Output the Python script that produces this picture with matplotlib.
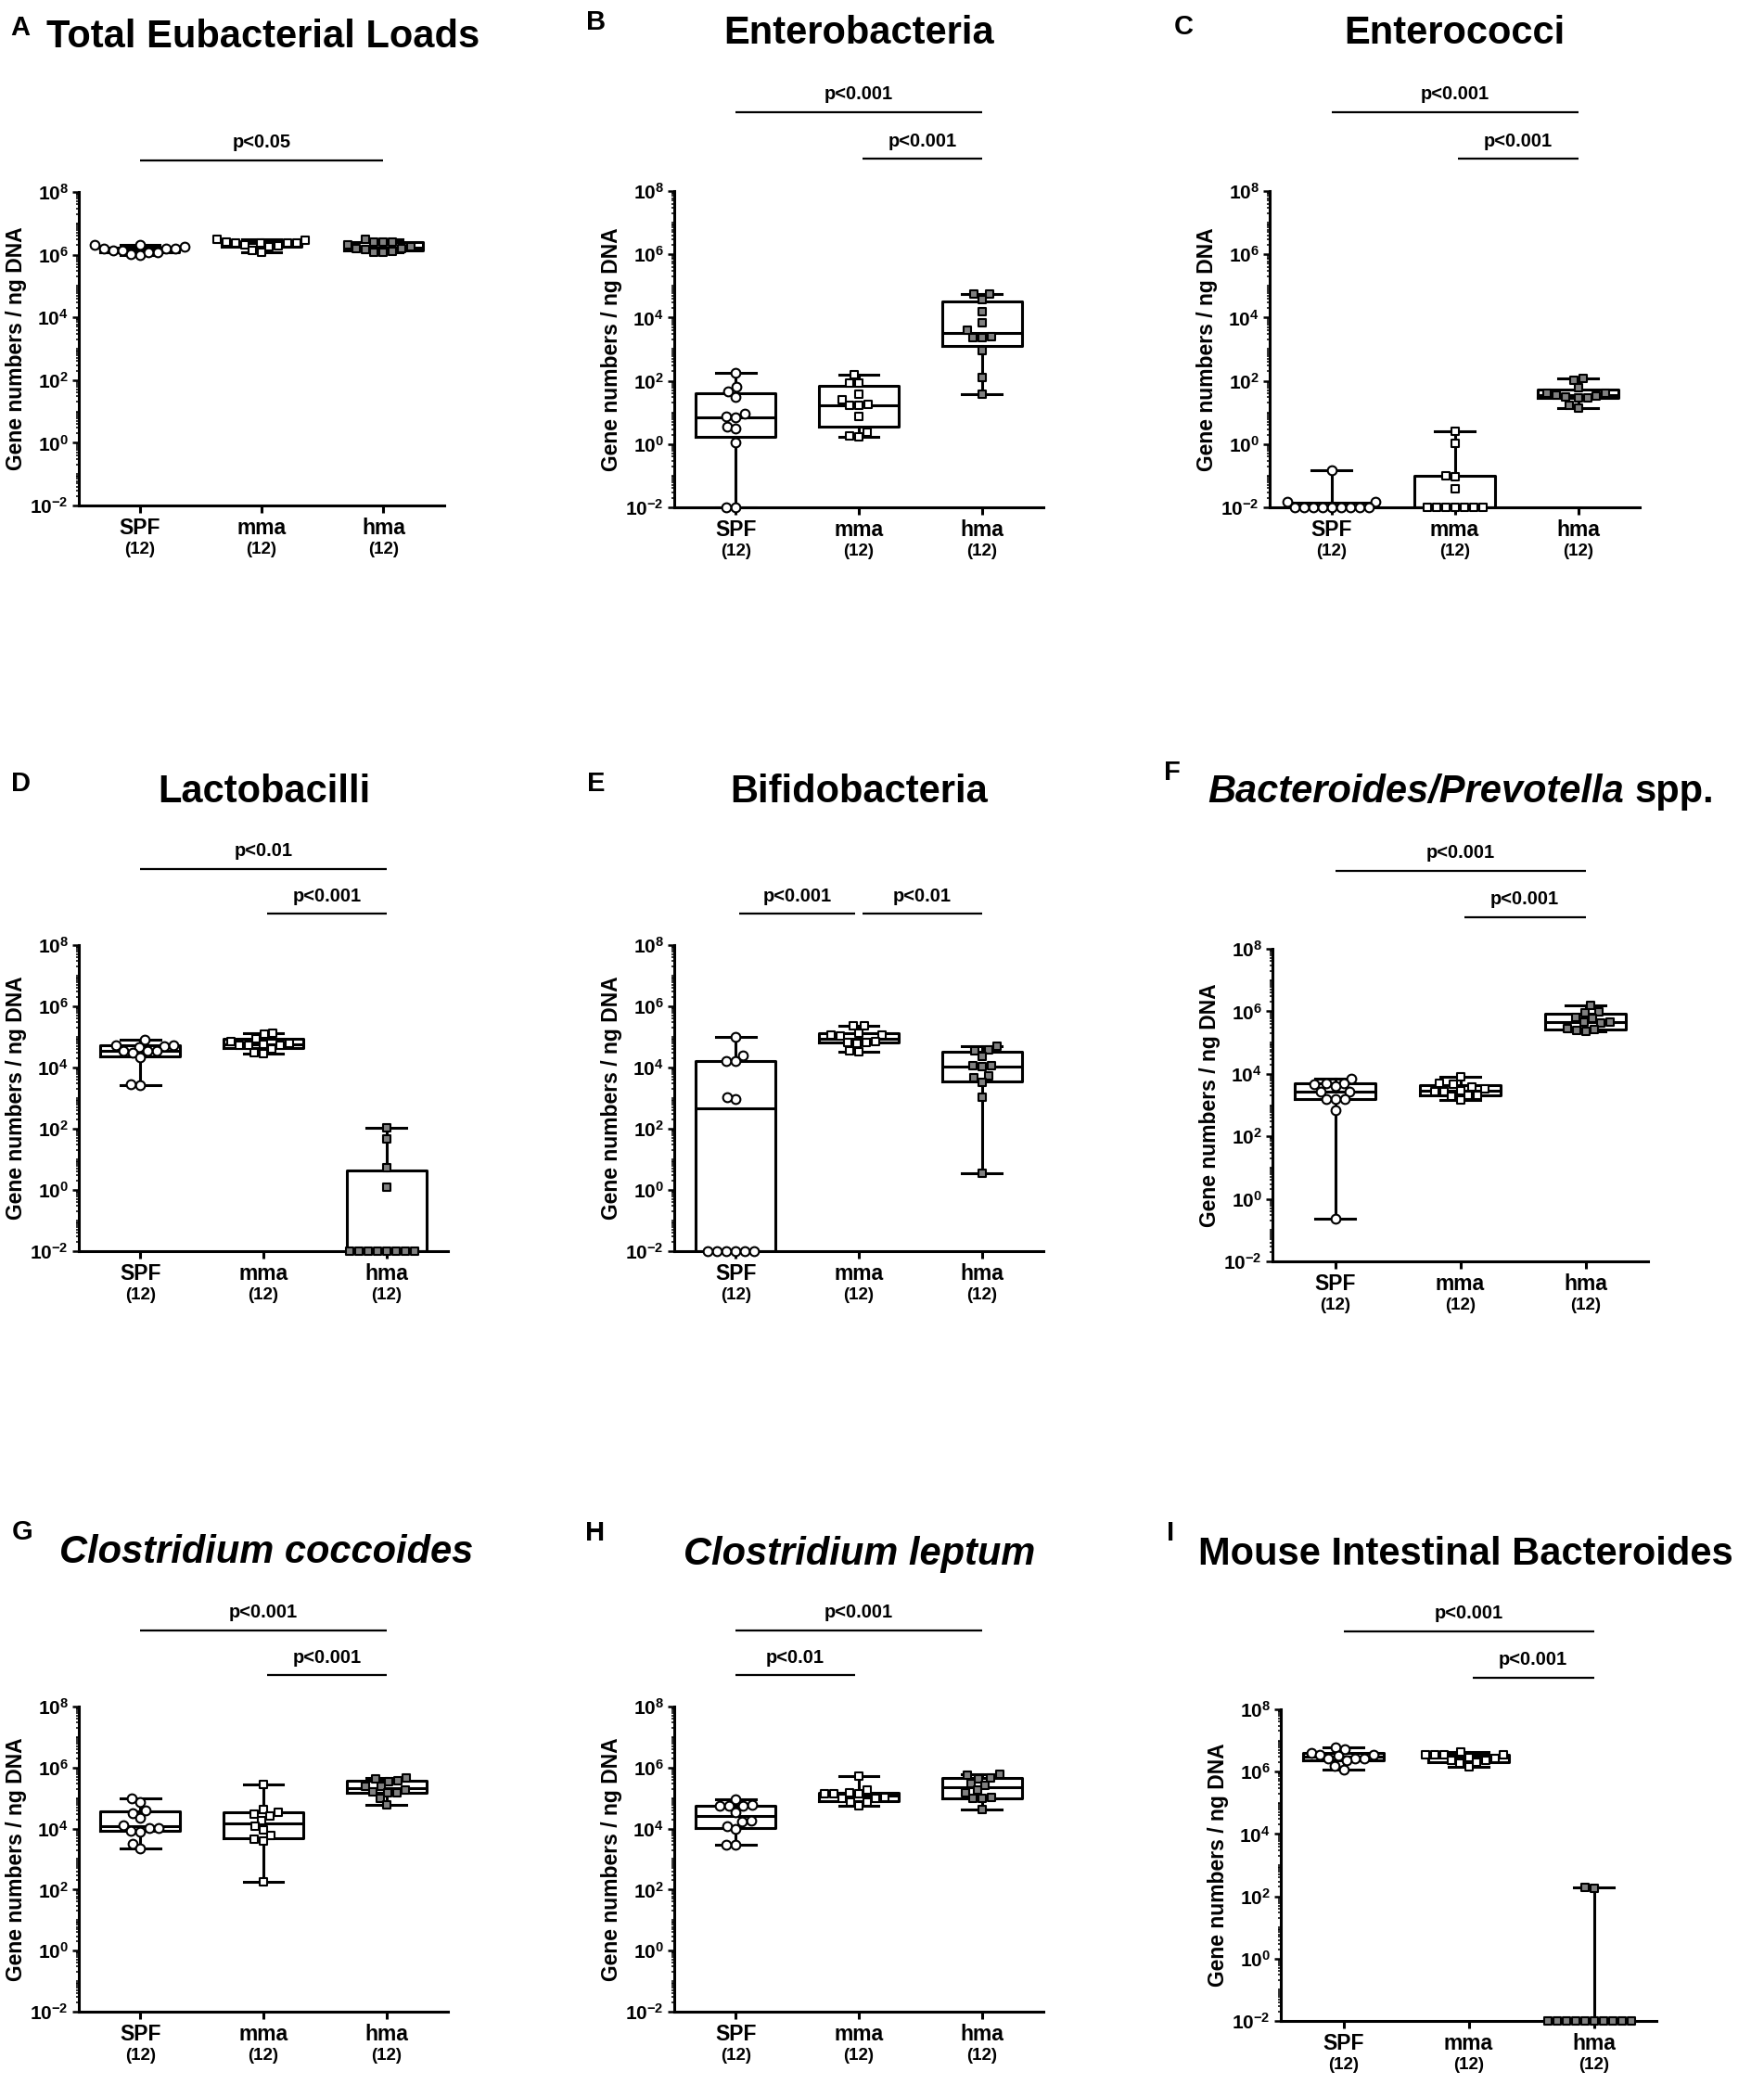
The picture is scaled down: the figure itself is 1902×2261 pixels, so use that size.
import numpy as np
import matplotlib
matplotlib.use('Agg')
import matplotlib.pyplot as plt
from matplotlib import ticker, transforms

plt.rcParams['font.family'] = ['Liberation Sans', 'DejaVu Sans']
plt.rcParams['font.weight'] = 'bold'
plt.rcParams['mathtext.fontset'] = 'custom'
plt.rcParams['mathtext.rm'] = 'Liberation Sans:bold'
plt.rcParams['mathtext.bf'] = 'Liberation Sans:bold'

# gene numbers / ng DNA (0.01 = below detection, plotted on the axis)
groups = ['SPF', 'mma', 'hma']

total_spf = [1.23e6, 1.74e6, 1.41e6, 1.52e6, 2.0e6, 0.95e6, 1.62e6, 1.23e6, 1.52e6, 2.0e6, 1.07e6, 1.41e6]
total_mma = [2.3e6, 1.74e6, 2.8e6, 2.0e6, 2.3e6, 1.17e6, 2.6e6, 1.9e6, 3.0e6, 1.4e6, 2.3e6, 2.3e6]
total_hma = [2.6e6, 1.3e6, 2.6e6, 1.6e6, 1.75e6, 2.1e6, 1.17e6, 3.2e6, 1.6e6, 2.6e6, 1.17e6, 1.5e6]

entb_spf = [184, 63, 45, 31, 9, 7.5, 6.9, 3.6, 3.1, 1.16, 0.01, 0.01]
entb_mma = [151, 83, 83, 37, 25, 17.6, 16.7, 16.7, 7.5, 2.37, 1.72, 1.8]
entb_hma = [5.4e4, 5.4e4, 3.8e4, 1.58e4, 6.8e3, 4.0e3, 2.46e3, 2.3e3, 2.3e3, 915, 129, 37]

entc_spf = [0.145, 0.015, 0.015, 0.01, 0.01, 0.01, 0.01, 0.01, 0.01, 0.01, 0.01, 0.01]
entc_mma = [2.57, 1.07, 0.1, 0.091, 0.038, 0.01, 0.01, 0.01, 0.01, 0.01, 0.01, 0.01]
entc_hma = [107, 123, 59, 40, 40, 31, 34, 35, 28, 28, 16.6, 13.8]

lact_spf = [8.1e4, 5.1e4, 5.4e4, 4.8e4, 5.4e4, 3.6e4, 3.4e4, 2.95e4, 3.4e4, 2.1e4, 2.7e3, 2.8e3]
lact_mma = [1.35e5, 1.27e5, 8.9e4, 6.3e4, 5.9e4, 7.1e4, 5.4e4, 5.4e4, 5.4e4, 3.9e4, 3.1e4, 2.9e4]
lact_hma = [109, 45, 5.3, 1.25, 0.01, 0.01, 0.01, 0.01, 0.01, 0.01, 0.01, 0.01]

bifi_spf = [1.02e5, 2.4e4, 1.58e4, 1.58e4, 930, 1070, 0.01, 0.01, 0.01, 0.01, 0.01, 0.01]
bifi_mma = [2.3e5, 2.3e5, 1.17e5, 1.35e5, 1.17e5, 1.07e5, 6.7e4, 7.1e4, 6.7e4, 6.3e4, 3.2e4, 3.4e4]
bifi_hma = [5.1e4, 3.7e4, 3.5e4, 2.3e4, 1.12e4, 1.12e4, 1.05e4, 5.3e3, 4.5e3, 3.2e3, 1.07e3, 3.5]

bact_spf = [7.2e3, 5.0e3, 5.0e3, 4.6e3, 4.0e3, 2.7e3, 2.7e3, 1.55e3, 1.55e3, 1.55e3, 690, 0.23]
bact_mma = [7.9e3, 5.0e3, 4.6e3, 3.8e3, 3.2e3, 2.9e3, 2.7e3, 2.7e3, 2.0e3, 2.0e3, 1.9e3, 1.45e3]
bact_hma = [1.5e6, 8.9e5, 9.4e5, 6.5e5, 5.9e5, 4.5e5, 4.5e5, 4.2e5, 2.9e5, 2.6e5, 2.4e5, 2.3e5]

ccoc_spf = [9.8e4, 7.6e4, 4.0e4, 3.2e4, 2.2e4, 1.32e4, 1.07e4, 1.07e4, 8.7e3, 8.1e3, 3.1e3, 2.2e3]
ccoc_mma = [2.8e5, 4.3e4, 3.5e4, 2.9e4, 2.6e4, 1.85e4, 1.16e4, 9.3e3, 5.8e3, 4.4e3, 3.8e3, 174]
ccoc_hma = [4.5e5, 4.2e5, 3.6e5, 3.5e5, 2.4e5, 2.4e5, 1.8e5, 1.6e5, 1.47e5, 1.47e5, 9.8e4, 6.0e4]

clep_spf = [9.1e4, 6.0e4, 5.6e4, 5.6e4, 5.6e4, 3.5e4, 1.85e4, 1.66e4, 1.23e4, 1.0e4, 2.9e3, 2.9e3]
clep_mma = [5.1e5, 1.8e5, 1.5e5, 1.38e5, 1.38e5, 1.38e5, 1.05e5, 1.0e5, 9.7e4, 7.4e4, 7.4e4, 5.6e4]
clep_hma = [5.9e5, 5.5e5, 4.6e5, 4.2e5, 2.9e5, 2.6e5, 1.8e5, 1.5e5, 1.05e5, 9.7e4, 9.7e4, 4.3e4]

mib_spf = [6.2e6, 5.1e6, 4.1e6, 3.6e6, 3.4e6, 3.2e6, 2.7e6, 2.6e6, 2.6e6, 2.3e6, 1.58e6, 1.2e6]
mib_mma = [4.2e6, 3.6e6, 3.6e6, 3.4e6, 3.4e6, 2.9e6, 2.7e6, 2.3e6, 2.3e6, 1.96e6, 1.85e6, 1.4e6]
mib_hma = [190, 180, 0.01, 0.01, 0.01, 0.01, 0.01, 0.01, 0.01, 0.01, 0.01, 0.01]

letters = ['A', 'B', 'C', 'D', 'E', 'F', 'G', 'H', 'I']
titles = [
    [('Total Eubacterial Loads', 'normal')],
    [('Enterobacteria', 'normal')],
    [('Enterococci', 'normal')],
    [('Lactobacilli', 'normal')],
    [('Bifidobacteria', 'normal')],
    [('Bacteroides/Prevotella', 'italic'), ('spp.', 'normal')],
    [('Clostridium coccoides', 'italic')],
    [('Clostridium leptum', 'italic')],
    [('Mouse Intestinal Bacteroides', 'normal')],
]
# (from group, to group, text, bracket row: 0 = upper, 1 = lower)
stats_text = [
    [(0, 2, 'p<0.05', 1)],
    [(0, 2, 'p<0.001', 0), (1, 2, 'p<0.001', 1)],
    [(0, 2, 'p<0.001', 0), (1, 2, 'p<0.001', 1)],
    [(0, 2, 'p<0.01', 0), (1, 2, 'p<0.001', 1)],
    [(0, 1, 'p<0.001', 1), (1, 2, 'p<0.01', 1)],
    [(0, 2, 'p<0.001', 0), (1, 2, 'p<0.001', 1)],
    [(0, 2, 'p<0.001', 0), (1, 2, 'p<0.001', 1)],
    [(0, 2, 'p<0.001', 0), (0, 1, 'p<0.01', 1)],
    [(0, 2, 'p<0.001', 0), (1, 2, 'p<0.001', 1)],
]
panel_data = [
    (total_spf, total_mma, total_hma), (entb_spf, entb_mma, entb_hma), (entc_spf, entc_mma, entc_hma),
    (lact_spf, lact_mma, lact_hma), (bifi_spf, bifi_mma, bifi_hma), (bact_spf, bact_mma, bact_hma),
    (ccoc_spf, ccoc_mma, ccoc_hma), (clep_spf, clep_mma, clep_hma), (mib_spf, mib_mma, mib_hma),
]

# ---- layout (pixels in a 1902 x 2261 canvas) ----
W, H = 1902, 2261
axes_px = [(85, 207, 479, 545), (727, 206, 1125, 547), (1369, 206, 1768, 547),
           (85, 1019, 483, 1349), (727, 1019, 1125, 1349), (1372, 1023, 1777, 1360),
           (85, 1840, 483, 2169), (727, 1840, 1125, 2169), (1381, 1843, 1786, 2179)]
title_px = [(284, 51), (926, 47), (1568, 47), (285, 865), (926, 865), (1575, 865),
            (287, 1685), (927, 1687), (1580, 1687)]
letter_px = [(22, 38), (643, 32), (1276, 37), (23, 853), (643, 853), (1264, 841),
             (24, 1660), (642, 1661), (1262, 1661)]
bracket_rows = [1.25, 1.102]

markers = ['o', 's', 's']
faces = ['white', 'white', '#808080']
msizes = [7.0, 6.4, 6.4]

fig = plt.figure(figsize=(W / 100, H / 100), dpi=100)
fig.patch.set_facecolor('white')


def swarm(ypx, d):
    # simple beeswarm: place each point as close to centre as possible without overlap
    order = np.argsort(ypx)
    xs = np.zeros(len(ypx))
    placed = []
    for i in order:
        y = ypx[i]
        cands = [0.0]
        for px, py in placed:
            dy = abs(py - y)
            if dy < d:
                dx = np.sqrt(d * d - dy * dy)
                cands += [px - dx, px + dx]
        cands.sort(key=abs)
        for c in cands:
            if all((c - px) ** 2 + (y - py) ** 2 >= d * d - 1e-6 for px, py in placed):
                xs[i] = c
                break
        placed.append((xs[i], y))
    return xs


def draw_title(parts, cx, by, size):
    renderer = fig.canvas.get_renderer()
    texts, widths = [], []
    for s, style in parts:
        t = fig.text(0, 1 - by / H, s, fontsize=size, fontweight='bold', style=style,
                     ha='left', va='baseline')
        widths.append(t.get_window_extent(renderer).width)
        texts.append(t)
    gap = 0.28 * size * 100 / 72
    x = cx - (sum(widths) + gap * (len(parts) - 1)) / 2
    for t, w in zip(texts, widths):
        t.set_x(x / W)
        x += w + gap


for k in range(9):
    l, t, r, b = axes_px[k]
    wpx, hpx = r - l, b - t
    ax = fig.add_axes([l / W, 1 - b / H, wpx / W, hpx / H])
    ax.set_yscale('log')
    ax.set_ylim(1e-2, 1e8)
    ax.set_xlim(-0.5, 2.5)
    for s in ['top', 'right']:
        ax.spines[s].set_visible(False)
    for s in ['left', 'bottom']:
        ax.spines[s].set_linewidth(2.2)

    ax.yaxis.set_major_locator(ticker.FixedLocator([1e-2, 1e0, 1e2, 1e4, 1e6, 1e8]))
    ax.yaxis.set_minor_locator(ticker.LogLocator(base=10, subs=np.arange(1, 10), numticks=30))
    ax.yaxis.set_minor_formatter(ticker.NullFormatter())
    ax.yaxis.set_major_formatter(ticker.FuncFormatter(
        lambda v, p: r'$\mathbf{10^{%d}}$' % round(np.log10(v))))
    ax.tick_params(axis='y', which='major', length=5, width=1.8, labelsize=15, pad=3)
    ax.tick_params(axis='y', which='minor', length=2.5, width=1.1)
    ax.set_xticks([0, 1, 2])
    ax.set_xticklabels([])
    ax.tick_params(axis='x', which='major', length=5.5, width=2.2)

    data = panel_data[k]
    # box: quartiles (n+1 method), whiskers min to max
    bstats = []
    for g, vals in enumerate(data):
        v = np.array(vals, dtype=float)
        q1, med, q3 = np.percentile(v, [25, 50, 75], method='weibull')
        bstats.append(dict(med=med, q1=q1, q3=q3, whislo=v.min(), whishi=v.max(), fliers=[]))
    lw = 2.2
    ax.bxp(bstats, positions=[0, 1, 2], widths=0.65, capwidths=0.32, showfliers=False,
           boxprops=dict(color='black', linewidth=lw),
           whiskerprops=dict(color='black', linewidth=lw),
           capprops=dict(color='black', linewidth=lw),
           medianprops=dict(color='black', linewidth=lw),
           manage_ticks=False, zorder=2)

    unit_px = wpx / 3.0
    for g, vals in enumerate(data):
        v = np.array(vals, dtype=float)
        ypx = (np.log10(v) + 2) / 10 * hpx
        off = swarm(ypx, 10.0) / unit_px
        ax.scatter(g + off, v, s=msizes[g] ** 2, marker=markers[g], facecolor=faces[g],
                   edgecolor='black', linewidth=1.5, zorder=3, clip_on=False)
        ax.annotate(groups[g], xy=(g, 0), xycoords=('data', 'axes fraction'),
                    xytext=(0, -17.5), textcoords='offset points', ha='center', va='center',
                    fontsize=16.5, fontweight='bold')
        ax.annotate('(%d)' % len(v), xy=(g, 0), xycoords=('data', 'axes fraction'),
                    xytext=(0, -34.5), textcoords='offset points', ha='center', va='center',
                    fontsize=13.5, fontweight='bold')

    ax.set_ylabel('Gene numbers / ng DNA', fontsize=16.5, fontweight='bold')
    ax.yaxis.set_label_coords(-56.0 / wpx, 0.5)

    trans = transforms.blended_transform_factory(ax.transData, ax.transAxes)
    for g1, g2, txt, row in stats_text[k]:
        lev = bracket_rows[row]
        x1 = g1 + (0.03 if (g1 == 1 or (k == 4 and g1 == 0)) else 0.0)
        x2 = g2 - (0.03 if g2 == 1 else 0.0)
        ax.plot([x1, x2], [lev, lev], color='black', lw=1.6, transform=trans,
                clip_on=False, solid_capstyle='butt')
        ax.annotate(txt, xy=((x1 + x2) / 2, lev), xycoords=trans, xytext=(0, 13.7),
                    textcoords='offset points', ha='center', va='center',
                    fontsize=14.5, fontweight='bold')

    cx, by = title_px[k]
    draw_title(titles[k], cx, by, 30)
    lx, ly = letter_px[k]
    fig.text(lx / W, 1 - ly / H, letters[k], fontsize=21, fontweight='bold',
             ha='center', va='baseline')

fig.savefig('out.png', dpi=100, facecolor='white')
